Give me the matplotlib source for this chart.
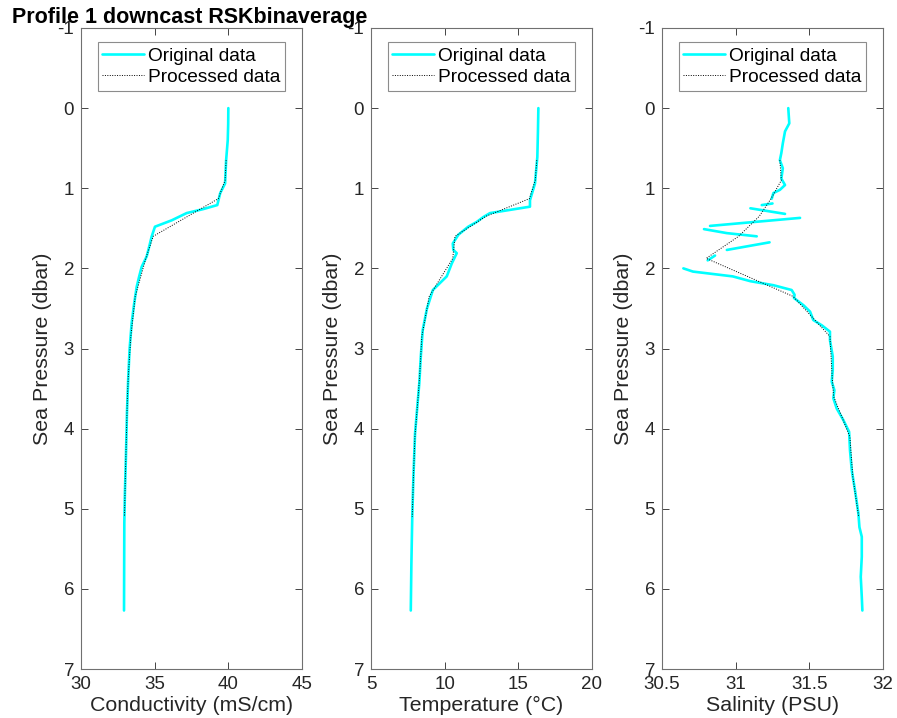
import numpy as np
import matplotlib
matplotlib.use("Agg")
import matplotlib.pyplot as plt

plt.rcParams['font.family'] = ['Liberation Sans', 'DejaVu Sans']

# ---------------- data ----------------
# Conductivity (mS/cm)
cond_p = [0.0, 0.2, 0.4, 0.65, 0.94, 1.06, 1.21, 1.26, 1.31, 1.40, 1.48, 1.60, 1.75, 1.85,
          1.98, 2.10, 2.23, 2.45, 2.68, 3.00, 3.35, 3.80, 4.35, 4.80, 5.18, 5.70, 6.27]
cond_v = [40.0, 39.99, 39.96, 39.85, 39.78, 39.45, 39.25, 38.3, 37.17, 36.16, 35.02, 34.8,
          34.6, 34.46, 34.12, 33.95, 33.78, 33.6, 33.44, 33.3, 33.21, 33.12, 33.05, 32.98,
          32.94, 32.93, 32.92]

# Temperature (deg C)
temp_p = [0.0, 0.3, 0.61, 0.94, 1.15, 1.23, 1.31, 1.36, 1.42, 1.48, 1.58, 1.69, 1.77, 1.81,
          1.94, 2.10, 2.27, 2.50, 2.77, 3.10, 3.43, 4.06, 4.60, 5.10, 5.70, 6.27]
temp_v = [16.36, 16.33, 16.29, 16.13, 15.79, 15.79, 13.08, 12.62, 12.18, 11.6, 10.93, 10.55,
          10.59, 10.82, 10.48, 10.14, 9.2, 8.8, 8.51, 8.38, 8.28, 7.99, 7.88, 7.8, 7.74, 7.7]

# Salinity (PSU); NaN separates broken segments of the original record
sal_p = [0.0, 0.19, 0.29, 0.44, 0.56, 0.65, 0.75, 0.88, 0.96, 1.02, 1.06, 1.13, np.nan,
         1.21, 1.19, np.nan,
         1.25, 1.32, np.nan,
         1.37, 1.47, np.nan,
         1.51, 1.56, 1.60, np.nan,
         1.675, 1.77, np.nan,
         1.84, 1.90, np.nan,
         2.0, 2.04, 2.06, 2.10, 2.16, 2.21, 2.27, 2.33, 2.37, 2.46, 2.54, 2.645, 2.71, 2.79,
         2.895, 3.10, 3.27, 3.415, 3.52, 3.62, 3.75, 3.89, 4.04, 4.27, 4.52, 4.77, 5.06,
         5.23, 5.35, 5.60, 5.85, 6.10, 6.27]
sal_v = [31.357, 31.364, 31.335, 31.32, 31.31, 31.30, 31.32, 31.31, 31.335, 31.30, 31.256,
         31.245, np.nan,
         31.177, 31.25, np.nan,
         31.10, 31.335, np.nan,
         31.437, 30.826, np.nan,
         30.785, 30.94, 31.143, np.nan,
         31.23, 30.94, np.nan,
         30.86, 30.81, np.nan,
         30.645, 30.71, 30.80, 30.98, 31.10, 31.256, 31.38, 31.40, 31.396, 31.46, 31.505,
         31.527, 31.584, 31.64, 31.64, 31.659, 31.659, 31.652, 31.67, 31.663, 31.686, 31.73,
         31.77, 31.776, 31.788, 31.81, 31.833, 31.84, 31.856, 31.856, 31.849, 31.856, 31.86]

# Processed (bin-averaged) profiles
proc_p = [0.65, 0.9, 1.13, 1.35, 1.6, 1.875, 2.35, 2.85, 3.35, 3.6, 4.1, 4.6, 5.1]
proc_cond = [39.85, 39.78, 39.32, 37.25, 34.9, 34.4, 33.68, 33.38, 33.21, 33.15, 33.08,
             33.01, 32.95]
proc_temp = [16.25, 16.15, 15.75, 12.8, 10.7, 10.55, 8.95, 8.45, 8.3, 8.2, 7.98, 7.88, 7.8]
proc_sal = [31.30, 31.31, 31.24, 31.16, 31.02, 30.80, 31.39, 31.64, 31.655, 31.665, 31.775,
            31.795, 31.835]

xlabels = ['Conductivity (mS/cm)', 'Temperature (°C)', 'Salinity (PSU)']
xlims = [(30, 45), (5, 20), (30.5, 32)]
xticks = [[30, 35, 40, 45], [5, 10, 15, 20], [30.5, 31, 31.5, 32]]
xticklabels = [['30', '35', '40', '45'], ['5', '10', '15', '20'], ['30.5', '31', '31.5', '32']]
yticks = [-1, 0, 1, 2, 3, 4, 5, 6, 7]
title = 'Profile 1 downcast RSKbinaverage'

# ---------------- figure ----------------
W, H = 897, 718
fig = plt.figure(figsize=(W / 100, H / 100), dpi=100)

lefts = [81, 371, 662]
ax_w = 221
ax_top, ax_bot = 28, 669

orig = [(cond_v, cond_p), (temp_v, temp_p), (sal_v, sal_p)]
proc = [proc_cond, proc_temp, proc_sal]
axcol = '#262626'

for i in range(3):
    ax = fig.add_axes([lefts[i] / W, (H - ax_bot) / H, ax_w / W, (ax_bot - ax_top) / H])
    ax.plot(orig[i][0], orig[i][1], color='#00ffff', lw=1.9, label='Original data',
            solid_capstyle='round')
    ax.plot(proc[i], proc_p, color='black', lw=0.7, ls=(0, (1, 1.5)), label='Processed data')
    ax.set_xlim(*xlims[i])
    ax.set_ylim(7, -1)
    ax.set_xticks(xticks[i])
    ax.set_xticklabels(xticklabels[i])
    ax.set_yticks(yticks)
    ax.set_yticklabels([str(t) for t in yticks])
    ax.tick_params(direction='in', length=5, width=0.6, top=True, right=True,
                   labelsize=13.5, colors=axcol, pad=5)
    for s in ax.spines.values():
        s.set_color('#707070')
        s.set_linewidth(0.8)
    ax.set_xlabel(xlabels[i], fontsize=15.4, color=axcol, labelpad=2)
    ax.set_ylabel('Sea Pressure (dbar)', fontsize=15.4, color=axcol, labelpad=4)
    leg = ax.legend(loc='upper center', fontsize=13.8, frameon=True, fancybox=False,
                    edgecolor='#707070', handlelength=2.2, handletextpad=0.2,
                    borderpad=0.25, labelspacing=0.2, borderaxespad=0.75)
    leg.get_frame().set_linewidth(0.8)
    for t in leg.get_texts():
        t.set_color('black')

fig.text(12 / W, 1 - 17 / H, title, fontsize=15.5, fontweight='bold', va='center', ha='left',
         color='black')

fig.savefig('out.png', dpi=100)
